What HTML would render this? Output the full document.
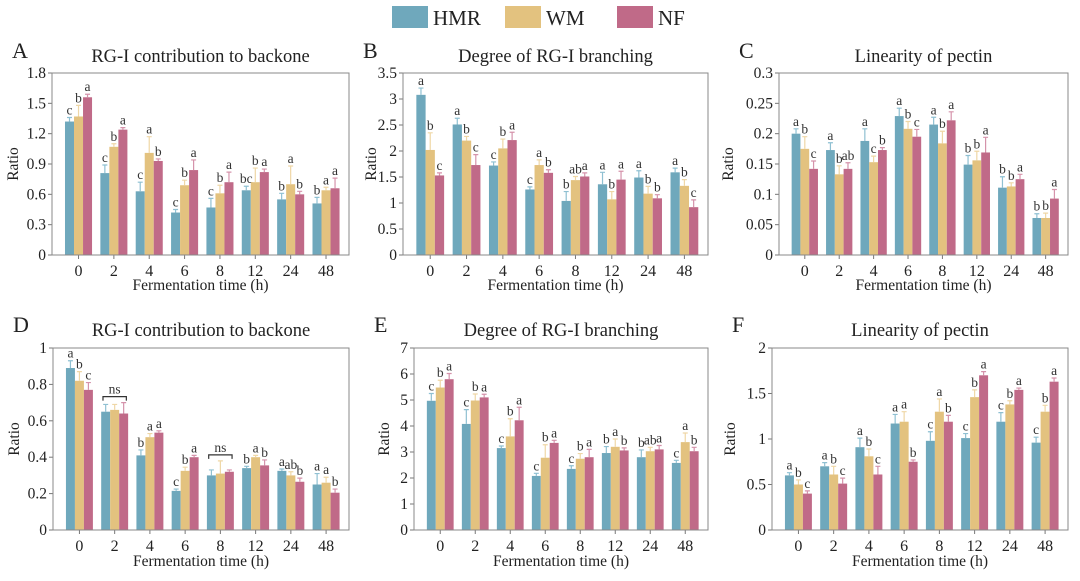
<!DOCTYPE html>
<html><head><meta charset="utf-8"><style>
html,body{margin:0;padding:0;background:#fff;}
svg{display:block;font-family:"Liberation Serif",serif;}
</style></head><body>
<svg id="chart" width="1080" height="581" viewBox="0 0 1080 581">
<g>
<rect x="392" y="6" width="36" height="22" fill="#6fa8bc"/>
<text x="433" y="25" font-size="21" fill="#222">HMR</text>
<rect x="505" y="6" width="36" height="22" fill="#e3c27f"/>
<text x="546" y="25" font-size="21" fill="#222">WM</text>
<rect x="617" y="6" width="36" height="22" fill="#c06a88"/>
<text x="658" y="25" font-size="21" fill="#222">NF</text>
</g>
</svg>
<script>
const categories = ["0","2","4","6","8","12","24","48"];
const seriesNames = ["HMR","WM","NF"];
// Panel A
const aHMR = [1.32,0.81,0.63,0.42,0.47,0.64,0.55,0.51];
const aWM  = [1.37,1.07,1.01,0.69,0.61,0.72,0.70,0.64];
const aNF  = [1.56,1.24,0.93,0.84,0.72,0.82,0.60,0.66];
const aErrHMR = [0.04,0.08,0.09,0.03,0.09,0.04,0.06,0.06];
const aErrWM  = [0.11,0.03,0.16,0.05,0.08,0.14,0.18,0.03];
const aErrNF  = [0.03,0.02,0.02,0.10,0.10,0.03,0.03,0.10];
const aLetters = [["c","b","a"],["c","b","a"],["c","a","b"],["c","b","a"],["c","b","a"],["bc","b","a"],["b","a","b"],["b","a","a"]];
const aTicks = ["0","0.3","0.6","0.9","1.2","1.5","1.8"];
// Panel B
const bHMR = [3.08,2.51,1.72,1.26,1.04,1.36,1.49,1.59];
const bWM  = [2.02,2.20,2.05,1.73,1.44,1.07,1.18,1.33];
const bNF  = [1.53,1.73,2.21,1.58,1.51,1.45,1.09,0.92];
const bErrHMR = [0.13,0.12,0.07,0.05,0.18,0.23,0.13,0.08];
const bErrWM  = [0.33,0.08,0.18,0.10,0.07,0.15,0.14,0.12];
const bErrNF  = [0.05,0.20,0.15,0.06,0.07,0.16,0.07,0.14];
const bLetters = [["a","b","c"],["a","b","c"],["c","b","a"],["c","a","b"],["b","ab","a"],["a","b","a"],["a","b","b"],["a","b","c"]];
const bTicks = ["0","0.5","1","1.5","2","2.5","3","3.5"];
// Panel C
const cHMR = [0.200,0.173,0.188,0.229,0.215,0.149,0.111,0.061];
const cWM  = [0.175,0.133,0.153,0.208,0.184,0.156,0.113,0.061];
const cNF  = [0.142,0.142,0.173,0.195,0.222,0.169,0.125,0.093];
const cErrHMR = [0.008,0.012,0.020,0.013,0.012,0.015,0.018,0.007];
const cErrWM  = [0.020,0.014,0.010,0.012,0.020,0.015,0.006,0.008];
const cErrNF  = [0.013,0.010,0.004,0.012,0.014,0.025,0.008,0.015];
const cLetters = [["a","b","c"],["a","b","ab"],["a","c","b"],["a","b","c"],["a","b","a"],["b","b","a"],["b","b","a"],["b","b","a"]];
const cTicks = ["0","0.05","0.1","0.15","0.2","0.25","0.3"];
// Panel D
const dHMR = [0.89,0.65,0.41,0.215,0.30,0.34,0.325,0.25];
const dWM  = [0.82,0.66,0.51,0.325,0.31,0.40,0.30,0.26];
const dNF  = [0.77,0.64,0.535,0.40,0.32,0.355,0.265,0.205];
const dErrHMR = [0.04,0.04,0.03,0.01,0.03,0.01,0.01,0.06];
const dErrWM  = [0.05,0.03,0.02,0.02,0.07,0.01,0.02,0.03];
const dErrNF  = [0.04,0.06,0.01,0.01,0.01,0.03,0.02,0.02];
const dLetters = [["a","b","c"],null,["b","a","a"],["c","b","a"],null,["b","a","b"],["a","ab","b"],["a","a","b"]];
const dTicks = ["0","0.2","0.4","0.6","0.8","1"];
// Panel E
const eHMR = [4.97,4.08,3.15,2.08,2.35,2.96,2.80,2.58];
const eWM  = [5.48,4.98,3.60,2.78,2.74,3.20,3.03,3.38];
const eNF  = [5.80,5.10,4.22,3.35,2.80,3.06,3.10,3.03];
const eErrHMR = [0.28,0.55,0.08,0.10,0.12,0.25,0.28,0.10];
const eErrWM  = [0.28,0.25,0.68,0.50,0.20,0.30,0.15,0.35];
const eErrNF  = [0.22,0.12,0.50,0.10,0.30,0.10,0.15,0.15];
const eLetters = [["c","b","a"],["c","b","a"],["c","b","a"],["c","b","a"],["c","b","a"],["b","a","b"],["b","ab","a"],["c","a","b"]];
const eTicks = ["0","1","2","3","4","5","6","7"];
// Panel F
const fHMR = [0.60,0.70,0.91,1.17,0.98,1.01,1.19,0.96];
const fWM  = [0.50,0.61,0.81,1.19,1.30,1.46,1.38,1.30];
const fNF  = [0.40,0.51,0.61,0.75,1.19,1.70,1.54,1.63];
const fErrHMR = [0.03,0.04,0.10,0.10,0.10,0.05,0.10,0.06];
const fErrWM  = [0.05,0.09,0.08,0.11,0.14,0.08,0.04,0.07];
const fErrNF  = [0.03,0.06,0.09,0.02,0.07,0.04,0.02,0.04];
const fLetters = [["a","b","c"],["a","b","c"],["a","b","c"],["a","a","b"],["c","a","b"],["c","b","a"],["c","b","a"],["c","b","a"]];
const fTicks = ["0","0.5","1","1.5","2"];

const colors = ["#6fa8bc","#e3c27f","#c06a88"];
const errColors = ["#8fc0d2","#efd7a6","#d593ab"];
const NS = "http://www.w3.org/2000/svg";
const svg = document.getElementById("chart");
function mk(tag, attrs, parent){const e=document.createElementNS(NS,tag);for(const k in attrs)e.setAttribute(k,attrs[k]);(parent||svg).appendChild(e);return e;}

const panels = [
 {id:"a",letter:"A",title:"RG-I contribution to backone",x0:52,x1:349,y0:73,y1:255,max:1.8,ticks:aTicks,vals:[aHMR,aWM,aNF],errs:[aErrHMR,aErrWM,aErrNF],letters:aLetters,ratioX:18,titleY:62,xTitleY:290},
 {id:"b",letter:"B",title:"Degree of RG-I branching",x0:403,x1:708,y0:73,y1:255,max:3.5,ticks:bTicks,vals:[bHMR,bWM,bNF],errs:[bErrHMR,bErrWM,bErrNF],letters:bLetters,ratioX:376,titleY:62,xTitleY:290},
 {id:"c",letter:"C",title:"Linearity of pectin",x0:779,x1:1068,y0:73,y1:255,max:0.3,ticks:cTicks,vals:[cHMR,cWM,cNF],errs:[cErrHMR,cErrWM,cErrNF],letters:cLetters,ratioX:733,titleY:62,xTitleY:290},
 {id:"d",letter:"D",title:"RG-I contribution to backone",x0:53,x1:349,y0:348,y1:530,max:1,ticks:dTicks,vals:[dHMR,dWM,dNF],errs:[dErrHMR,dErrWM,dErrNF],letters:dLetters,ratioX:19,titleY:336,xTitleY:566},
 {id:"e",letter:"E",title:"Degree of RG-I branching",x0:414,x1:708,y0:348,y1:530,max:7,ticks:eTicks,vals:[eHMR,eWM,eNF],errs:[eErrHMR,eErrWM,eErrNF],letters:eLetters,ratioX:389,titleY:336,xTitleY:566},
 {id:"f",letter:"F",title:"Linearity of pectin",x0:772,x1:1068,y0:348,y1:530,max:2,ticks:fTicks,vals:[fHMR,fWM,fNF],errs:[fErrHMR,fErrWM,fErrNF],letters:fLetters,ratioX:735,titleY:336,xTitleY:566}
];

panels.forEach(p=>{
 const g = mk("g",{});
 
 
 const W = p.x1-p.x0, step = W/8.4, bw = step*0.255;
 const xc = i => p.x0 + step*0.75 + i*step;
 const ys = v => p.y1 - (v/p.max)*(p.y1-p.y0);
 const cx = (p.x0+p.x1)/2;
 const pl = mk("text",{x:p.x0-40,y:p.titleY-4,"font-size":22,fill:"#222"},g);
 pl.textContent=p.letter;
 
 
 const tt = mk("text",{x:cx,y:p.titleY,"font-size":18.5,fill:"#222","text-anchor":"middle"},g);
 tt.textContent=p.title;
 
 
 p.ticks.forEach(t=>{
  const y = ys(parseFloat(t));
  const ln = mk("line",{x1:p.x0-4,x2:p.x0,y1:y,y2:y,stroke:"#777","stroke-width":1},g);
  
  
  const tx = mk("text",{x:p.x0-6,y:y+5,"font-size":15.5,fill:"#222","text-anchor":"end"},g);
  tx.textContent=t;
  
  
 });
 const ry=(p.y0+p.y1)/2;
 const rt = mk("text",{x:p.ratioX,y:ry,"font-size":15.5,fill:"#222","text-anchor":"middle",transform:`rotate(-90 ${p.ratioX} ${ry})`},g);
 rt.textContent="Ratio";
 
 
 categories.forEach((c,i)=>{
  for(let s=0;s<3;s++){
   const v=p.vals[s][i], e=p.errs[s][i];
   const bx = xc(i) + (s-1.5)*bw;
   const r = mk("rect",{x:bx,y:ys(v),width:bw,height:p.y1-ys(v),fill:colors[s]},g);
   
   
   const mx=bx+bw/2, top=ys(v+e);
   const eb = mk("path",{d:`M${mx} ${ys(v)}V${top}M${mx-2.5} ${top}H${mx+2.5}`,stroke:errColors[s],"stroke-width":1.2,fill:"none"},g);
   
   
   if(p.letters[i]){
    const lt = mk("text",{x:mx,y:top-3,"font-size":13.5,fill:"#333","text-anchor":"middle"},g);
    lt.textContent=p.letters[i][s];
    
    
   }
  }
  if(!p.letters[i]){
   let top=1e9;
   for(let s=0;s<3;s++) top=Math.min(top, ys(p.vals[s][i]+p.errs[s][i]));
   const by=top-6, l=xc(i)-1.3*bw, rr=xc(i)+1.3*bw;
   const br = mk("path",{d:`M${l} ${by+4}V${by}H${rr}V${by+4}`,stroke:"#333","stroke-width":1.2,fill:"none"},g);
   
   
   const ns = mk("text",{x:xc(i),y:by-3,"font-size":13.5,fill:"#333","text-anchor":"middle"},g);
   ns.textContent="ns";
   
   
  }
  const xt = mk("line",{x1:xc(i),x2:xc(i),y1:p.y1,y2:p.y1+4,stroke:"#777","stroke-width":1},g);
  
  
  const xl = mk("text",{x:xc(i),y:p.y1+21,"font-size":16,fill:"#222","text-anchor":"middle"},g);
  xl.textContent=c;
  
  
 });
 const fr = mk("rect",{x:p.x0,y:p.y0,width:W,height:p.y1-p.y0,fill:"none",stroke:"#888","stroke-width":1},g);
 
 
 const xtl = mk("text",{x:cx,y:p.xTitleY,"font-size":15.5,fill:"#222","text-anchor":"middle"},g);
 xtl.textContent="Fermentation time (h)";
 
 
});
</script>
</body></html>
